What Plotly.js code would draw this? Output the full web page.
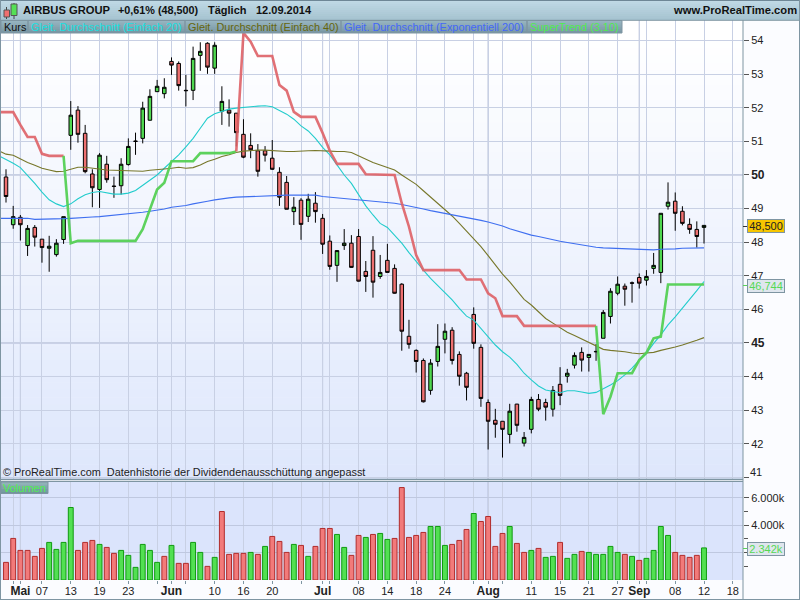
<!DOCTYPE html>
<html><head><meta charset="utf-8">
<script src="https://cdn.plot.ly/plotly-3.0.1.min.js"></script>
<style>html,body{margin:0;padding:0;background:#fff}#c{width:800px;height:600px}</style>
</head><body><div id="c"></div>
<script>
// Bars by trading-day number 0..97
const highs=[50.17,49.08,48.81,48.51,48.51,48.09,48.19,48.09,48.76,52.20,52.05,51.49,50.17,50.65,50.57,49.95,50.50,51.09,51.26,52.18,52.55,52.83,52.88,53.50,53.38,52.98,53.82,53.95,53.95,53.95,52.64,52.25,51.84,51.66,51.24,50.92,50.86,51.04,50.23,49.97,49.34,49.31,49.44,49.49,48.84,48.20,47.75,48.39,48.21,48.39,47.44,48.18,47.62,47.95,47.34,46.78,45.69,44.81,44.54,44.52,45.56,45.58,45.47,44.75,44.14,46.06,44.96,43.32,43.04,42.67,43.19,43.19,42.35,43.40,43.48,43.34,43.72,44.28,44.23,44.72,44.87,44.66,44.97,45.98,46.63,46.98,46.77,46.83,47.07,47.17,47.68,48.86,49.78,49.48,49.07,48.71,48.62,48.50];
const opens=[49.94,48.52,48.74,47.90,48.44,48.09,47.82,47.63,48.08,51.18,51.93,51.24,50.03,49.57,50.32,49.67,49.68,50.31,51.01,51.09,51.63,52.48,52.42,53.38,53.32,52.52,52.52,53.56,53.92,53.18,51.90,51.93,51.84,51.21,50.88,50.72,50.72,50.50,50.08,49.78,48.91,49.25,48.77,49.16,48.71,48.03,47.31,47.90,47.97,48.17,47.13,47.76,46.98,47.46,47.22,46.75,45.20,44.78,44.48,43.59,44.45,45.11,45.38,44.66,44.10,45.85,44.87,43.23,42.70,42.67,42.28,43.18,42.02,42.43,43.32,43.23,43.03,43.77,44.01,44.34,44.72,44.57,44.75,45.14,45.79,46.48,46.69,46.79,46.95,46.87,47.22,47.10,49.07,49.22,48.92,48.53,48.38,48.44];
const closes=[49.36,48.76,48.52,48.41,48.15,47.84,47.88,47.97,48.76,51.78,51.21,50.10,49.62,50.59,49.86,49.66,50.32,50.85,51.00,51.99,52.34,52.64,52.61,53.27,52.66,52.51,53.47,53.68,53.21,53.86,52.19,51.84,51.26,50.53,50.75,50.11,50.59,50.17,49.34,48.98,49.04,48.53,49.28,48.91,47.94,47.28,47.75,47.97,47.25,46.84,46.98,46.81,47.10,47.10,46.48,45.35,44.96,44.45,43.25,44.40,44.90,45.35,44.48,44.01,43.68,44.99,43.35,42.67,42.58,42.43,42.97,42.55,42.19,43.32,43.03,43.09,43.59,43.44,44.10,44.63,44.49,44.66,44.74,45.91,46.54,46.75,46.60,46.78,46.78,46.98,47.31,48.86,49.19,48.86,48.56,48.38,48.17,48.50];
const lows=[49.18,48.40,48.05,47.59,47.87,47.39,47.12,47.57,47.95,50.75,50.96,50.05,49.04,49.02,49.77,49.32,49.42,50.28,50.60,50.94,51.62,52.47,52.28,52.98,52.51,52.04,52.23,53.10,53.01,53.01,51.49,51.44,50.85,50.50,50.50,49.95,50.40,50.15,49.08,48.98,48.51,48.07,48.60,48.58,47.65,47.18,46.82,47.77,47.24,46.83,46.52,46.35,46.91,47.10,46.47,44.77,44.83,44.12,43.23,43.46,44.30,44.69,44.36,43.73,43.29,44.83,43.10,41.83,42.18,41.59,42.01,42.36,41.92,42.31,42.97,42.69,42.81,43.15,43.82,44.24,44.15,44.15,44.47,45.14,45.58,46.42,46.11,46.20,46.62,46.71,47.06,46.78,48.97,48.34,48.50,48.25,47.84,47.96];
// Volume in thousands and its colour code (1 = green, 0 = red)
const volumes=[1286,3034,2160,2160,1723,2306,2743,2233,2743,5291,2160,2743,2888,2597,2378,1942,2160,1796,922,2597,2160,1286,1723,2524,1214,1214,2743,2014,995,1650,5000,1869,1942,1942,2014,1869,2451,3179,2815,2014,2597,2524,1723,2451,3762,3762,3325,2378,1796,3252,3107,3325,3398,2961,3034,6747,3107,3252,3471,3907,3907,2524,2597,2888,3689,4854,4272,4636,2451,3398,3907,2670,2014,2160,2306,1650,1723,2743,1578,1869,2087,2014,1869,1869,2451,2014,1869,1723,1432,1578,2160,3907,3252,2014,1796,1650,1796,2342];
const volumeUp=[0,0,0,0,0,0,1,1,1,1,0,0,0,1,0,0,1,1,1,1,1,1,0,1,0,0,1,1,0,1,0,0,0,0,1,0,1,0,0,0,1,0,1,0,0,0,1,1,0,0,1,0,1,1,0,0,0,0,0,1,1,1,0,0,0,1,0,0,0,0,1,0,0,1,0,1,1,0,1,1,0,1,1,1,1,1,0,1,0,1,1,1,1,0,0,0,0,1];
// Indicators, from one step left of the first bar (-1..97)
const sma20=[50.57,50.47,50.35,50.22,50.00,49.75,49.49,49.26,49.14,49.06,49.14,49.29,49.41,49.48,49.51,49.48,49.43,49.43,49.46,49.54,49.70,49.85,50.00,50.20,50.40,50.60,50.84,51.09,51.39,51.69,51.82,51.89,51.96,51.99,52.00,52.03,52.05,52.06,52.03,51.93,51.81,51.66,51.46,51.31,51.09,50.82,50.60,50.30,50.00,49.75,49.40,49.08,48.81,48.56,48.44,48.21,47.97,47.69,47.42,47.17,46.92,46.71,46.51,46.28,46.03,45.80,45.68,45.44,45.19,44.94,44.74,44.58,44.36,44.10,43.90,43.72,43.60,43.57,43.52,43.58,43.58,43.54,43.50,43.53,43.63,43.75,43.88,44.05,44.25,44.49,44.69,44.99,45.24,45.54,45.78,46.03,46.28,46.56,46.83];
const sma40=[50.72,50.62,50.59,50.47,50.37,50.29,50.20,50.15,50.10,50.11,50.17,50.23,50.23,50.20,50.18,50.15,50.14,50.13,50.11,50.10,50.11,50.14,50.17,50.18,50.20,50.23,50.20,50.22,50.30,50.40,50.47,50.55,50.60,50.67,50.71,50.73,50.74,50.74,50.72,50.72,50.70,50.70,50.70,50.72,50.73,50.73,50.71,50.70,50.70,50.67,50.57,50.45,50.37,50.30,50.22,50.15,50.00,49.87,49.72,49.53,49.34,49.16,48.98,48.78,48.56,48.33,48.11,47.87,47.60,47.32,47.05,46.82,46.56,46.30,46.13,45.93,45.73,45.59,45.46,45.32,45.22,45.12,45.02,44.92,44.81,44.78,44.77,44.74,44.70,44.68,44.70,44.72,44.78,44.82,44.88,44.94,45.00,45.08,45.16];
const ema200=[48.71,48.71,48.71,48.71,48.71,48.68,48.68,48.68,48.69,48.70,48.71,48.73,48.74,48.75,48.76,48.78,48.79,48.81,48.83,48.86,48.89,48.92,48.95,48.99,49.04,49.06,49.09,49.14,49.19,49.22,49.26,49.30,49.32,49.34,49.35,49.36,49.37,49.39,49.39,49.40,49.40,49.40,49.40,49.40,49.40,49.36,49.34,49.33,49.31,49.29,49.27,49.24,49.21,49.19,49.18,49.16,49.12,49.08,49.05,48.99,48.94,48.90,48.87,48.82,48.78,48.73,48.69,48.65,48.60,48.55,48.48,48.40,48.34,48.26,48.21,48.17,48.12,48.06,48.03,47.99,47.95,47.91,47.88,47.85,47.83,47.82,47.81,47.79,47.79,47.78,47.76,47.77,47.79,47.79,47.80,47.82,47.83,47.83,47.83];
const superTrend=[51.87,51.87,51.87,51.49,51.13,51.13,50.63,50.57,50.57,50.57,47.97,48.04,48.04,48.04,48.04,48.04,48.04,48.04,48.04,48.04,48.39,48.96,49.57,49.77,50.41,50.41,50.41,50.41,50.65,50.65,50.65,50.65,50.65,50.70,54.23,53.97,53.54,53.54,53.54,52.68,52.51,51.88,51.73,51.73,51.73,51.25,50.72,50.33,50.33,50.33,50.33,50.02,50.02,50.02,50.02,50.00,49.16,48.46,47.62,47.17,47.17,47.17,47.17,47.17,47.17,46.89,46.89,46.89,46.48,46.33,45.80,45.80,45.80,45.51,45.51,45.51,45.51,45.51,45.51,45.51,45.51,45.51,45.51,45.51,42.88,43.40,44.10,44.10,44.10,44.49,44.71,45.14,45.19,46.74,46.74,46.74,46.74,46.74,46.74];
const priceTicks=[41,42,43,44,45,46,47,48,49,50,51,52,53,54];
const B=t=>'<span style="font-size:12px"><b>'+t+'</b></span>';
const priceLabels=['','42','43','44',B('45'),'46','47','48','49',B('50'),'51','52','53','54'];
const dayTicks=[1,5,9,13,17,21,25,29,33,37,41,45,49,53,57,61,65,69,73,77,81,85,89,93,97,101];
const dayLabels=['','07','13','19','23','','','10','16','20','','','08','14','18','24','','','11','15','21','27','','08','12','18'];
const monthTicks=[2,23,44,67,88];
const monthLabels=['Mai','Jun','Jul','Aug','Sep'];
const volTicks=[2000,4000,6000];
const volLabels=['','4.000k','6.000k'];
const volMinor=[1000,3000,5000];
const legendNames=['Kurs','Gleit. Durchschnitt (Einfach 20)','Gleit. Durchschnitt (Einfach 40)','Gleit. Durchschnitt (Exponentiell 200)','SuperTrend (3,10)'];

const W=800,H=600;
const px=x=>x/W, py=y=>1-y/H;
const barX=closes.map((_,i)=>i), lineX=sma20.map((_,i)=>i-1);
const seg=(a,b)=>superTrend.map((v,i)=>(i-1>=a&&i-1<=b)?v:null);
const lerp=(c1,c2,t)=>'rgb('+c1.map((c,i)=>Math.round(c+(c2[i]-c)*t)).join(',')+')';
const shapes=[];
function band(x0,x1,y0,y1,c1,c2,n,layer){for(let i=0;i<n;i++){const a=y0+(y1-y0)*i/n,b=y0+(y1-y0)*(i+1)/n+0.5;
  shapes.push({type:'rect',xref:'paper',yref:'paper',x0:px(x0),x1:px(x1),y0:py(a),y1:py(Math.min(b,y1)),fillcolor:lerp(c1,c2,i/(n-1||1)),line:{width:0},layer:layer});}}
function pline(x0,y0,x1,y1,color,w){shapes.push({type:'line',xref:'paper',yref:'paper',x0:px(x0),x1:px(x1),y0:py(y0),y1:py(y1),line:{color:color,width:w||1},layer:'above'});}
function box(x0,x1,y0,y1,fill,color){shapes.push({type:'rect',xref:'paper',yref:'paper',x0:px(x0),x1:px(x1),y0:py(y0),y1:py(y1),fillcolor:fill,line:{color:color,width:1},layer:'above'});}
band(0,743,33,479,[255,255,255],[222,231,252],60,'below');
band(0,743,20,33,[255,255,255],[255,255,255],1,'below');
band(0,743,482,580,[219,228,252],[219,228,252],1,'below');
band(0,800,0,20,[192,217,229],[166,196,209],10,'above');
// legend row
const legX=[1,28,185,341,527,622];
band(1,622,20.5,33,[150,180,192],[122,152,164],6,'above');
for(let i=0;i<5;i++) box(legX[i],legX[i+1],20.5,33,'rgba(0,0,0,0)','#7e95a2');
band(1,48,482,493.5,[145,178,184],[112,150,156],5,'above');
box(1,48,482,493.5,'rgba(0,0,0,0)','#7e95a2');
// frame
pline(0,0.5,800,0.5,'#6e8796',1);pline(0,20.3,800,20.3,'#7e95a2',1);
pline(0.5,0,0.5,600,'#7e95a2',1);pline(799.5,0,799.5,600,'#7e95a2',1);
pline(0,599.5,800,599.5,'#7e95a2',1);
pline(0,479.5,743,479.5,'#7e95a2',1.5);pline(0,481.5,743,481.5,'#7e95a2',1);
pline(743,20,743,599,'#7e95a2',1);
// month grid and heavier price grid
monthTicks.forEach(t=>shapes.push({type:'line',xref:'x',yref:'paper',x0:t,x1:t,y0:py(580),y1:py(481.7),line:{color:'#aab4d0',width:1},layer:'between'}));
monthTicks.forEach(t=>shapes.push({type:'line',xref:'x',yref:'paper',x0:t,x1:t,y0:py(479),y1:py(20),line:{color:'#aab4d0',width:1},layer:'between'}));
[45,50].forEach(v=>shapes.push({type:'line',xref:'paper',yref:'y',x0:0,x1:px(743),y0:v,y1:v,line:{color:'#aab4d0',width:1},layer:'between'}));
// title icon
shapes.push({type:'line',xref:'paper',yref:'paper',x0:px(6.5),x1:px(6.5),y0:py(7),y1:py(19),line:{color:'#444',width:1},layer:'above'});
shapes.push({type:'line',xref:'paper',yref:'paper',x0:px(14),x1:px(14),y0:py(3),y1:py(19),line:{color:'#444',width:1},layer:'above'});
box(4,9.5,10,17,'#ef6f6f','#555');box(11,17,4,15.5,'#55e055','#555');
// current value ticks
pline(743,226.5,748,226.5,'#333',1);
pline(743,285.5,748,285.5,'#5ad25a',1);
pline(743,548.5,748,548.5,'#5ad25a',1);

const font='"Liberation Sans", Arial, sans-serif';
const ann=[];
function txt(text,x,y,size,color,anchor,extra){ann.push(Object.assign({text:text,xref:'paper',yref:'paper',x:px(x),y:py(y),showarrow:false,xanchor:anchor||'left',yanchor:'middle',font:{family:font,size:size,color:color},borderpad:0,borderwidth:0},extra||{}));}
txt('<b>AIRBUS GROUP</b>',23,10,11.2,'#111');
txt('<b>+0,61% (48,500)</b>',118,10,10.8,'#111');
txt('<b>Täglich</b>',208,10,11,'#111');
txt('<b>12.09.2014</b>',256,10,11,'#111');
txt('<b>www.ProRealTime.com</b>',797,10,11.2,'#111','right');
const legCol=['#111','#18e0e0','#66660c','#4468f8','#4fec4f'];
legendNames.forEach((n,i)=>txt(n,legX[i]+2.5,27,10.9,legCol[i]));
txt('Volumen',2.5,488,11,'#4ff04f');
txt('© ProRealTime.com  Datenhistorie der Dividendenausschüttung angepasst',3,472,10.9,'#222');
txt('41',750,472,11,'#222');
const lab=(t,y,bg,col)=>txt(t,765.5,y,11,col,'center',{bgcolor:bg,bordercolor:'#7e95a2',borderwidth:1,width:36,height:12,align:'center'});
lab('48,500',226.5,'#f7c600','#222');
lab('46,744',285.5,'#dfe6ee','#55d855');
lab('2.342k',548.5,'#dfe6ee','#55d855');

const allTicks=dayTicks.concat(monthTicks);
const allLabels=dayLabels.concat(monthLabels.map(B));
const lineTrace=(y,color,w)=>({type:'scatter',mode:'lines',x:lineX,y:y,yaxis:'y',xaxis:'x',line:{color:color,width:w,shape:'linear'},hoverinfo:'skip',connectgaps:false});
const traces=[
 lineTrace(sma20,'#22cccc',1.1),
 lineTrace(sma40,'#77772a',1.1),
 lineTrace(ema200,'#3f6ff0',1.1),
 lineTrace(seg(-1,8),'rgba(222,96,102,0.9)',2.6),
 lineTrace(seg(8,32),'rgba(84,208,84,0.95)',2.6),
 lineTrace(seg(32,82),'rgba(222,96,102,0.9)',2.6),
 lineTrace(seg(82,97),'rgba(84,208,84,0.95)',2.6),
 {type:'candlestick',x:barX,open:opens,high:highs,low:lows,close:closes,xaxis:'x',yaxis:'y',whiskerwidth:0,
  increasing:{line:{color:'#000',width:1},fillcolor:'#4fd84f'},decreasing:{line:{color:'#000',width:1},fillcolor:'#ee7070'},hoverinfo:'skip'},
 {type:'bar',x:barX,y:volumes,xaxis:'x',yaxis:'y2',width:0.68,
  marker:{color:volumeUp.map(u=>u?'#52e052':'#f27a7a'),line:{color:volumeUp.map(u=>u?'#109a10':'#b02c2c'),width:1}},hoverinfo:'skip'}
];
const layout={width:W,height:H,margin:{l:0,r:0,t:0,b:0},paper_bgcolor:'#fbfcff',plot_bgcolor:'rgba(0,0,0,0)',showlegend:false,
 boxgap:0.3,bargap:0.3,dragmode:false,xaxis:{domain:[0,743/W],anchor:'y2',range:[-0.834,102.42],tickmode:'array',tickvals:allTicks,ticktext:allLabels,
   showgrid:true,gridcolor:'#c8d0e4',gridwidth:1,zeroline:false,showline:false,ticks:'outside',ticklen:3,tickcolor:'#7e95a2',ticklabelstandoff:-2,
   tickfont:{family:font,size:11,color:'#222'},rangeslider:{visible:false},tickangle:0},
 yaxis:{domain:[py(479),py(20)],range:[55.208-479/33.6,55.208-20/33.6],side:'right',anchor:'x',tickmode:'array',tickvals:priceTicks,ticktext:priceLabels,
   showgrid:true,gridcolor:'#c8d0e4',zeroline:false,showline:false,ticks:'outside',ticklen:5,tickcolor:'#555',tickfont:{family:font,size:11,color:'#222'}},
 yaxis2:{domain:[py(580),py(481.7)],range:[0,7175],side:'right',anchor:'x',tickmode:'array',tickvals:volTicks,ticktext:volLabels,
   showgrid:true,gridcolor:'#bfc8e0',zeroline:false,showline:false,ticks:'outside',ticklen:5,tickcolor:'#555',
   minor:{tickmode:'array',tickvals:volMinor,ticks:'outside',ticklen:4,tickcolor:'#555',showgrid:false},tickfont:{family:font,size:11,color:'#222'}},
 shapes:shapes,annotations:ann};
Plotly.newPlot('c',traces,layout,{displayModeBar:false,staticPlot:true});
</script></body></html>
